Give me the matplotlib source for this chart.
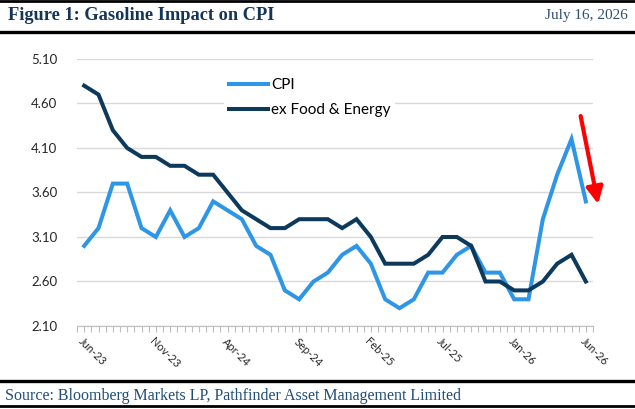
import matplotlib
matplotlib.use("Agg")
import matplotlib.pyplot as plt
from matplotlib.lines import Line2D
from matplotlib.ticker import MultipleLocator

# monthly readings, Jun-23 .. end of series
cpi = [3.0, 3.2, 3.7, 3.7, 3.2, 3.1, 3.4, 3.1, 3.2, 3.5, 3.4, 3.3,
       3.0, 2.9, 2.5, 2.4, 2.6, 2.7, 2.9, 3.0, 2.8, 2.4, 2.3, 2.4,
       2.7, 2.7, 2.9, 3.0, 2.7, 2.7, 2.4, 2.4, 3.3, 3.8, 4.2, 3.5]
core = [4.8, 4.7, 4.3, 4.1, 4.0, 4.0, 3.9, 3.9, 3.8, 3.8, 3.6, 3.4,
        3.3, 3.2, 3.2, 3.3, 3.3, 3.3, 3.2, 3.3, 3.1, 2.8, 2.8, 2.8,
        2.9, 3.1, 3.1, 3.0, 2.6, 2.6, 2.5, 2.5, 2.6, 2.8, 2.9, 2.6]
tick_labels = ["Jun-23", "Nov-23", "Apr-24", "Sep-24", "Feb-25",
               "Jul-25", "Jan-26", "Jun-26"]
y_ticks = [2.10, 2.60, 3.10, 3.60, 4.10, 4.60, 5.10]

LIGHT = "#2E96E6"
DARK = "#0D3A5C"
NAVY = "#14355A"
SANS = ["Lato", "DejaVu Sans"]
SERIF = ["Liberation Serif", "DejaVu Serif"]

fig = plt.figure(figsize=(6.35, 4.09), dpi=100)
ax = fig.add_axes([77 / 635, 1 - 326 / 409, 516 / 635, 267 / 409])

x = list(range(len(cpi)))
ax.plot(x, cpi, color=LIGHT, lw=2.9, label="CPI", solid_joinstyle="miter")
ax.plot(x, core, color=DARK, lw=2.9, label="ex Food & Energy",
        solid_joinstyle="miter")

ax.set_xlim(-0.5, len(cpi) - 0.5)
ax.set_ylim(y_ticks[0], y_ticks[-1])
ax.set_yticks(y_ticks)
ax.set_yticklabels([f"{v:.2f}" for v in y_ticks], fontsize=9.5,
                   family=SANS, color="#262626")
ax.grid(axis="y", color="#D9D9D9", lw=1)
ax.set_axisbelow(True)

ax.set_xticks(range(0, len(cpi), 5))
ax.set_xticklabels(tick_labels, rotation=-45, ha="left", va="top",
                   rotation_mode="anchor", fontsize=8, family=SANS,
                   color="#262626")
ax.xaxis.set_minor_locator(MultipleLocator(0.5))
ax.tick_params(axis="x", which="both", length=4, width=0.8,
               color="#BFBFBF", direction="out", pad=3)
ax.tick_params(axis="y", length=0, pad=14)

for s in ["top", "right", "left"]:
    ax.spines[s].set_visible(False)
ax.spines["bottom"].set_color("#BFBFBF")

leg = ax.legend(loc="upper left", bbox_to_anchor=(0.27, 0.975), frameon=True,
                prop={"family": SANS, "size": 11}, handlelength=2.6,
                handletextpad=0.2, labelspacing=0.75, borderpad=0.3)
leg.get_frame().set_facecolor("white")
leg.get_frame().set_edgecolor("none")
leg.get_frame().set_alpha(1)

# red arrow marking the latest drop
ax.annotate("", xy=(35.9, 3.44), xytext=(34.6, 4.49),
            arrowprops=dict(arrowstyle="-|>,head_length=1.0,head_width=0.5",
                            color="#FF0000", lw=3),
            annotation_clip=False)

# header and footer rules
for yy, lw in [(1 - 1 / 409, 2.0), (1 - 31.5 / 409, 2.4),
               (1 - 380.5 / 409, 2.4), (1 - 406 / 409, 2.0)]:
    fig.add_artist(Line2D([0, 1], [yy, yy], color="black", lw=lw,
                          transform=fig.transFigure))

fig.text(8 / 635, 1 - 16 / 409, "Figure 1: Gasoline Impact on CPI",
         family=SERIF, weight="bold", fontsize=13.2, color=NAVY,
         va="center", ha="left")
fig.text(628 / 635, 1 - 16 / 409, "July 16, 2026", family=SERIF,
         fontsize=11, color="#2F4F6F", va="center", ha="right")
fig.text(5 / 635, 1 - 395.5 / 409,
         "Source: Bloomberg Markets LP, Pathfinder Asset Management Limited",
         family=SERIF, fontsize=11.5, color="#1F4E79", va="center", ha="left")

fig.savefig("out.png", dpi=100)
